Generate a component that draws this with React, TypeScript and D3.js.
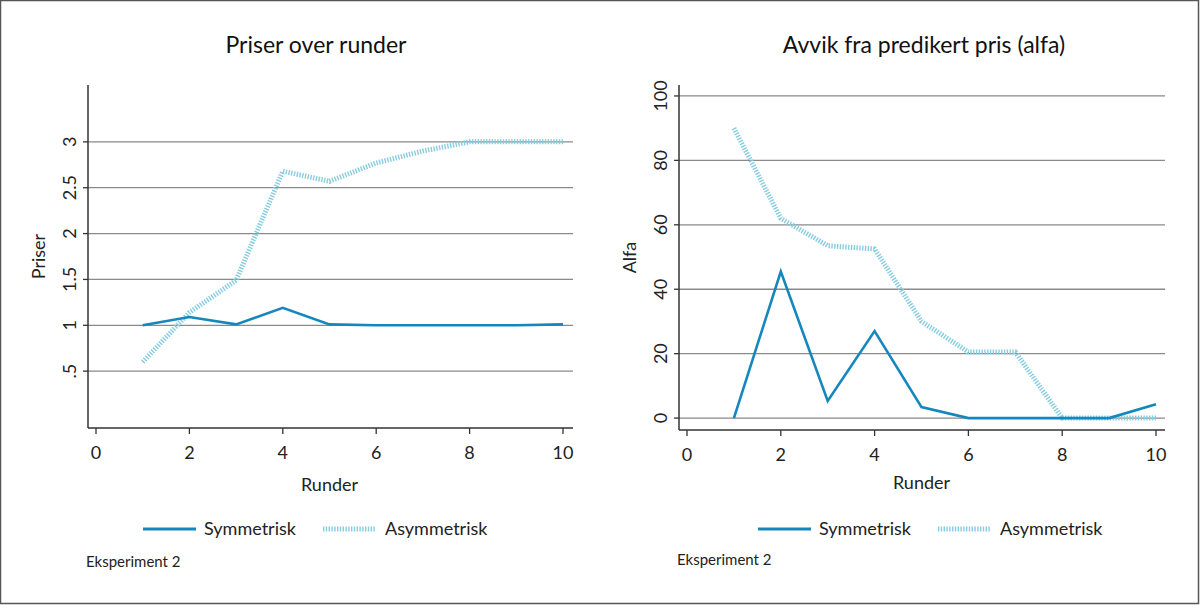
import React from "react";
import * as d3 from "d3";

const rounds = [1, 2, 3, 4, 5, 6, 7, 8, 9, 10];
const priceSym = [1.0, 1.09, 1.01, 1.19, 1.01, 1.0, 1.0, 1.0, 1.0, 1.01];
const priceAsym = [0.6, 1.14, 1.49, 2.68, 2.57, 2.77, 2.9, 3.0, 3.0, 3.0];
const alfaSym = [0, 45.5, 5.3, 27, 3.4, 0, 0, 0, 0, 4.3];
const alfaAsym = [90, 62, 53.5, 52.5, 30, 20.5, 20.5, 0, 0, 0];
const xTicks = [0, 2, 4, 6, 8, 10];
const priceTicks = [0.5, 1, 1.5, 2, 2.5, 3];
const priceTickLabels = [".5", "1", "1.5", "2", "2.5", "3"];
const alfaTicks = [0, 20, 40, 60, 80, 100];
const alfaTickLabels = ["0", "20", "40", "60", "80", "100"];

const SYM = "#1587bd";
const ASYM = "#86cde0";
const FONT = "Lato, 'Open Sans', sans-serif";

type PanelProps = {
  title: string;
  yLabel: string;
  sym: number[];
  asym: number[];
  yDomain: [number, number];
  yTicks: number[];
  yTickLabels: string[];
  axisX: number;
  plotRight: number;
  x0: number;
  x10: number;
  top: number;
  bottom: number;
  titleX: number;
  yLabelX: number;
  tickLabelX: number;
  legendX: number;
  noteX: number;
  noteY: number;
  xLabelY: number;
};

function Panel(p: PanelProps) {
  const x = d3.scaleLinear().domain([0, 10]).range([p.x0, p.x10]);
  const y = d3.scaleLinear().domain(p.yDomain).range([p.bottom, p.top]);
  const line = d3
    .line<number>()
    .x((_, i) => x(rounds[i]))
    .y((d) => y(d));
  const centerX = (p.x0 + p.x10) / 2;
  return (
    <g fontFamily={FONT}>
      <text x={p.titleX} y={53} textAnchor="middle" fontSize={23} fill="#111">
        {p.title}
      </text>
      {p.yTicks.map((t, i) => (
        <g key={"g" + i}>
          <line x1={p.axisX} x2={p.plotRight} y1={y(t)} y2={y(t)} stroke="#8a8a8a" strokeWidth={1.3} />
          <line x1={p.axisX - 5} x2={p.axisX} y1={y(t)} y2={y(t)} stroke="#333" strokeWidth={1.3} />
          <text
            transform={`translate(${p.tickLabelX},${y(t)}) rotate(-90)`}
            textAnchor="middle"
            fontSize={18}
            fill="#222"
          >
            {p.yTickLabels[i]}
          </text>
        </g>
      ))}
      <line x1={p.axisX} x2={p.axisX} y1={p.top} y2={p.bottom} stroke="#333" strokeWidth={1.5} />
      <line x1={p.axisX} x2={p.plotRight} y1={p.bottom} y2={p.bottom} stroke="#333" strokeWidth={1.5} />
      {xTicks.map((t) => (
        <g key={"x" + t}>
          <line x1={x(t)} x2={x(t)} y1={p.bottom} y2={p.bottom + 6} stroke="#333" strokeWidth={1.3} />
          <text x={x(t)} y={p.bottom + 31} textAnchor="middle" fontSize={18} fill="#222">
            {t}
          </text>
        </g>
      ))}
      <text x={centerX} y={p.xLabelY} textAnchor="middle" fontSize={18} fill="#222">
        Runder
      </text>
      <text
        transform={`translate(${p.yLabelX},${(p.top + p.bottom) / 2}) rotate(-90)`}
        textAnchor="middle"
        fontSize={18}
        fill="#222"
      >
        {p.yLabel}
      </text>
      <path d={line(p.asym) || ""} fill="none" stroke={ASYM} strokeWidth={5} strokeDasharray="1.4 1.4" />
      <path d={line(p.sym) || ""} fill="none" stroke={SYM} strokeWidth={2.6} strokeLinejoin="miter" />
      <g transform={`translate(${p.legendX},529)`}>
        <line x1={0} x2={53} y1={0} y2={0} stroke={SYM} strokeWidth={3} />
        <text x={61} y={6} fontSize={18} fill="#222">Symmetrisk</text>
        <line x1={180} x2={233} y1={0} y2={0} stroke={ASYM} strokeWidth={5} strokeDasharray="1.4 1.4" />
        <text x={242} y={6} fontSize={18} fill="#222">Asymmetrisk</text>
      </g>
      <text x={p.noteX} y={p.noteY} fontSize={15} fill="#222">
        Eksperiment 2
      </text>
    </g>
  );
}

export default function App() {
  return (
    <div style={{ position: "fixed", left: 0, top: 0 }}>
      <svg width={1200} height={605} style={{ display: "block", background: "#fff" }}>
        <rect x={0.5} y={0.5} width={1198} height={603} fill="#fff" stroke="#555" strokeWidth={1.5} />
        <Panel
          title="Priser over runder"
          yLabel="Priser"
          sym={priceSym}
          asym={priceAsym}
          yDomain={[-0.12, 3.62]}
          yTicks={priceTicks}
          yTickLabels={priceTickLabels}
          axisX={88}
          plotRight={573}
          x0={96}
          x10={563}
          top={85}
          bottom={428}
          titleX={316}
          yLabelX={45}
          tickLabelX={76}
          legendX={143}
          noteX={86}
          noteY={567}
          xLabelY={491}
        />
        <Panel
          title="Avvik fra predikert pris (alfa)"
          yLabel="Alfa"
          sym={alfaSym}
          asym={alfaAsym}
          yDomain={[-3.7, 103.4]}
          yTicks={alfaTicks}
          yTickLabels={alfaTickLabels}
          axisX={679}
          plotRight={1165}
          x0={687}
          x10={1156}
          top={85}
          bottom={430}
          titleX={924}
          yLabelX={636}
          tickLabelX={667}
          legendX={758}
          noteX={677}
          noteY={565}
          xLabelY={489}
        />
      </svg>
    </div>
  );
}
